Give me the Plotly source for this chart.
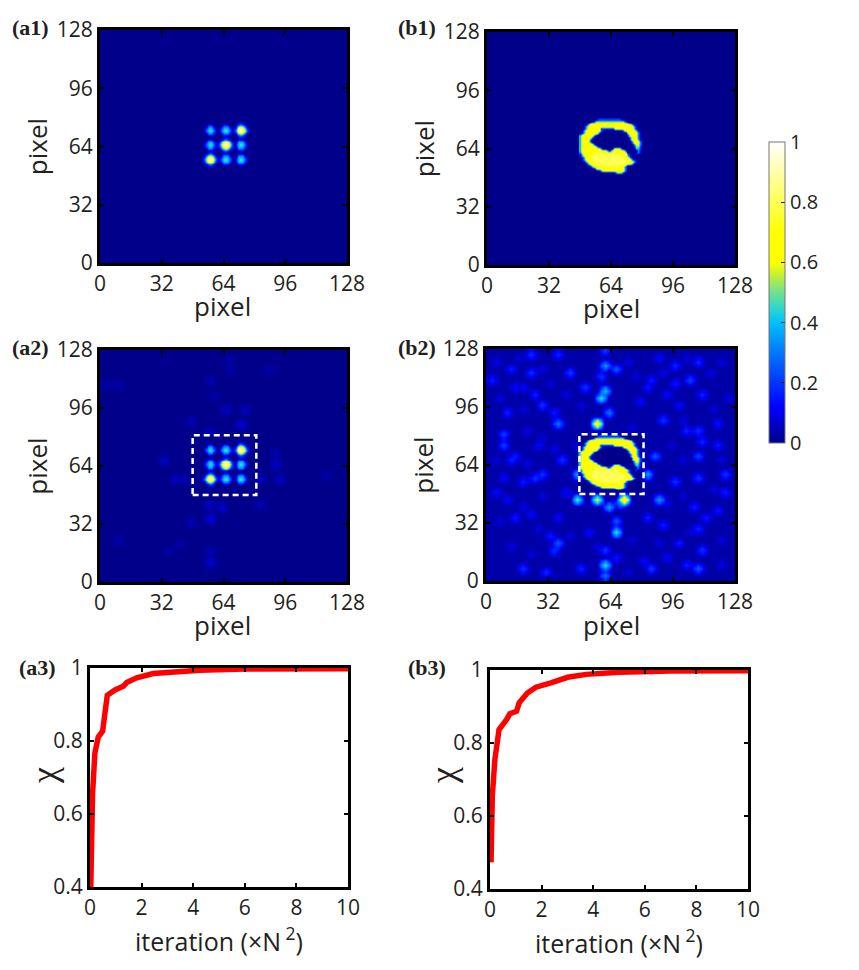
import plotly.graph_objects as go

W, H = 859, 970

# spot pattern of panels a1 / a2 (x and y start at 50, one cell per pixel, top row first)
spot_rows = [
    "0" * 31,
    "0" * 31,
    "0" * 31,
    "0" * 22 + "111" + "0" * 6,
    "0000" + "0011100" + "0" + "0011100" + "001232100" + "000",
    "0000" + "0133310" + "0" + "0133310" + "013565310" + "000",
    "0000" + "1244421" + "0" + "1244421" + "125898521" + "000",
    "0000" + "1345431" + "0" + "1345431" + "1369a9631" + "000",
    "0000" + "1244421" + "0" + "1244421" + "125898521" + "000",
    "0000" + "0133310" + "0" + "0133310" + "013565310" + "000",
    "0000" + "0011100" + "0" + "0011100" + "001232100" + "000",
    "0" * 14 + "111" + "0" * 5 + "111" + "0" * 6,
    "0000" + "0011100" + "001232100" + "0011100" + "0000",
    "0000" + "0133310" + "013565310" + "0133310" + "0000",
    "0000" + "1244421" + "125898521" + "1244421" + "0000",
    "0000" + "1345431" + "1369a9631" + "1345431" + "0000",
    "0000" + "1244421" + "125898521" + "1244421" + "0000",
    "0000" + "0133310" + "013565310" + "0133310" + "0000",
    "0000" + "0011100" + "001232100" + "0011100" + "0000",
    "0" * 6 + "111" + "0" * 5 + "111" + "0" * 14,
    "000" + "001232100" + "0011100" + "0" + "0011100" + "0000",
    "000" + "013565310" + "0133310" + "0" + "0133310" + "0000",
    "000" + "125898521" + "1244421" + "0" + "1244421" + "0000",
    "000" + "1369a9631" + "1345431" + "0" + "1345431" + "0000",
    "000" + "125898521" + "1244421" + "0" + "1244421" + "0000",
    "000" + "013565310" + "0133310" + "0" + "0133310" + "0000",
    "000" + "001232100" + "0011100" + "0" + "0011100" + "0000",
    "0" * 6 + "111" + "0" * 22,
    "0" * 31,
    "0" * 31,
    "0" * 31,
]

# crescent object of panels b1 / b2 (x starts at 48, top row is y=80)
object_rows = [
    "0" * 9 + "1" + "2" * 11 + "1" + "0" * 11,
    "0" * 7 + "2" + "5" * 15 + "2" + "0" * 9,
    "0" * 4 + "14" + "7" * 19 + "41" + "0" * 6,
    "0" * 3 + "14" + "7" * 22 + "41" + "0" * 4,
    "0" * 2 + "14" + "7" * 24 + "41" + "0" * 3,
    "00" + "14" + "7" * 7 + "2" * 7 + "7" * 10 + "41" + "000",
    "0" + "14" + "7" * 8 + "3" + "0" * 10 + "3" + "7" * 6 + "41" + "00",
    "0" + "14" + "7" * 7 + "3" + "0" * 13 + "3" + "7" * 5 + "31" + "0",
    "14" + "7" * 7 + "3" + "0" * 15 + "3" + "7" * 4 + "31" + "0",
    "4" + "7" * 6 + "3" + "0" * 17 + "3" + "7" * 4 + "31" + "0",
    "4" + "7" * 5 + "3" + "0" * 19 + "3" + "777" + "31" + "0",
    "4" + "7" * 4 + "3" + "0" * 20 + "3" + "777" + "41" + "0",
    "4" + "7" * 4 + "3" + "0" * 21 + "3" + "777" + "31",
    "4" + "7" * 5 + "3" + "0" * 20 + "3" + "777" + "31",
    "4" + "7" * 6 + "3" + "0" * 20 + "3" + "66" + "31",
    "4" + "7" * 8 + "3" + "0" * 18 + "2" + "55" + "20",
    "4" + "7" * 10 + "3" + "0" * 5 + "3" + "777" + "3" + "0" * 7 + "44" + "20",
    "4" + "7" * 13 + "414" + "7" * 6 + "3" + "0" * 6 + "31" + "0",
    "3" + "7" * 23 + "3" + "0" * 4 + "131" + "0",
    "14" + "7" * 5 + "8" * 13 + "7" * 5 + "31" + "002000",
    "14" + "7" * 4 + "8" * 15 + "7" * 4 + "31" + "0" * 6,
    "0" + "14" + "7" * 3 + "8" * 17 + "7" * 3 + "31" + "0" * 5,
    "0" + "14" + "7" * 3 + "8" * 18 + "7" * 3 + "31" + "0" * 4,
    "00" + "14" + "7" * 3 + "8" * 18 + "7" * 3 + "41" + "000",
    "000" + "14" + "7" * 3 + "8" * 16 + "7" * 3 + "41" + "0" * 4,
    "0" * 4 + "14" + "7" * 3 + "8" * 12 + "7" * 3 + "31" + "0" * 7,
    "0" * 5 + "14" + "7" * 16 + "31" + "0" * 8,
    "0" * 7 + "14" + "7" * 14 + "31" + "0" * 8,
    "0" * 10 + "14" + "7" * 11 + "31" + "0" * 8,
    "0" * 18 + "2" + "555" + "2" + "0" * 10,
    "0" * 20 + "1" + "0" * 12,
]

# faint speckle of panel a2, on a 64 x 64 grid (2 pixels per cell)
a2_cols = [36, 32, 37, 23, 28, 16, 19, 21, 45, 46, 41, 28, 31, 28, 23, 28, 28, 4, 1, 33, 33, 43, 28, 29, 41, 45, 58, 4, 20, 17]
a2_rows = [43, 47, 47, 44, 41, 33, 28, 28, 32, 28, 28, 21, 20, 17, 16, 5, 8, 54, 54, 61, 58, 58, 55, 51, 21, 35, 29, 11, 10, 8]
a2_vals = [.08, .06, .05, .05, .05, .06, .05, .04, .06, .06, .05, .06, .07, .09, .05, .07, .04, .03, .03, .03, .03, .03, .04, .03, .04, .04, .03, .03, .03, .03]

# speckle of panel b2, same grid
b2_cols = [30, 30, 33, 29, 30, 29, 31, 28, 33, 33, 30, 30, 30, 23, 41, 23, 28, 35, 31, 34, 44, 43, 18, 19,
           4, 4, 1, 5, 11, 11, 18, 6, 21, 12, 14, 9, 7, 6, 12, 14, 4, 9, 25, 18, 16, 17, 9, 15, 24, 42, 54, 51,
           55, 49, 54, 45, 41, 53, 48, 54, 61, 54, 55, 54, 51, 45, 52, 48, 42, 41, 48, 54, 44, 55, 59, 59, 61,
           59, 56, 46, 49, 39, 17, 7, 13, 2, 5, 7, 11, 18, 26, 33, 40, 46, 20, 23, 26,
           2, 8, 14, 16, 3, 9, 20, 24, 36, 38, 45, 51, 57, 60, 62, 58, 50, 37, 10, 14, 17, 2, 10, 60, 50, 47, 58,
           50, 46, 14, 9, 3, 13, 21, 6, 11, 28, 37, 44, 52, 60, 36, 60, 20, 58]
b2_rows = [63, 59, 58, 56, 52, 50, 46, 43, 16, 13, 8, 4, 1, 29, 29, 22, 22, 22, 20, 21, 22, 34, 43, 33,
           40, 37, 55, 46, 57, 62, 62, 58, 57, 51, 48, 53, 34, 33, 28, 29, 28, 27, 53, 10, 12, 8, 3, 2, 3, 3, 3, 4,
           8, 10, 14, 15, 17, 20, 27, 28, 29, 34, 38, 41, 41, 44, 55, 54, 55, 53, 59, 60, 61, 51, 43, 37, 24,
           19, 17, 51, 48, 49, 46, 53, 37, 24, 22, 17, 18, 17, 13, 6, 5, 6, 24, 37, 33,
           60, 61, 58, 54, 50, 47, 51, 48, 60, 56, 57, 61, 57, 60, 50, 47, 44, 42, 41, 39, 36, 33, 32, 33, 33, 37, 25,
           23, 21, 23, 20, 16, 14, 12, 9, 7, 9, 11, 10, 13, 11, 2, 4, 4, 14]
b2_vals = [.20, .35, .25, .20, .40, .45, .30, .75, .25, .45, .20, .45, .30, .35, .35, .50, .60, .80, .35, .30, .35, .25, .30, .20,
           .22, .22, .16, .18, .20, .20, .18, .16, .22, .18, .20, .13, .16, .18, .20, .20, .13, .16, .20, .26, .16, .20, .20, .18, .18, .22, .26, .16,
           .20, .16, .18, .16, .18, .16, .20, .20, .20, .22, .18, .20, .18, .20, .22, .16, .16, .16, .18, .18, .13, .18, .16, .16, .16,
           .16, .16, .13, .13, .13, .16, .13, .13, .13, .13, .16, .13, .13, .13, .16, .13, .13, .13,
           .10, .09, .10, .09, .10, .09, .10, .09, .10, .09, .10, .09, .10, .09, .10, .09, .10, .09, .10, .09, .10, .09, .10, .09, .10, .09, .10,
           .09, .10, .09, .10, .09, .10, .09, .10, .09, .10, .09, .10, .09, .10, .09, .10, .09, .10]
b2_floor = 0.03

# how far a speckle runs into its neighbour cells
spread_dc = [0, 1, -1, 0, 0, 1, 1, -1, -1]
spread_dr = [0, 0, 0, 1, -1, 1, -1, 1, -1]
spread_w = [1, .7, .7, .7, .7, .4, .4, .4, .4]

# dashed box of the lower panels
box_left, box_right, box_bottom, box_top = 48, 81, 48, 81

# convergence curves
a3_iter = [0.03, 0.06, 0.10, 0.19, 0.32, 0.49, 0.58, 0.67, 0.97, 1.29, 1.42, 1.81, 2.45, 3.2, 4.26, 6, 8, 10]
a3_chi = [0.40, 0.539, 0.657, 0.767, 0.811, 0.827, 0.877, 0.925, 0.94, 0.95, 0.96, 0.973, 0.985, 0.99, 0.994, 0.997, 0.998, 0.998]
b3_iter = [0.04, 0.06, 0.09, 0.19, 0.35, 0.64, 0.77, 1.03, 1.13, 1.45, 1.78, 2.36, 3.01, 3.73, 5.03, 7, 10]
b3_chi = [0.473, 0.582, 0.655, 0.755, 0.837, 0.864, 0.88, 0.887, 0.91, 0.937, 0.953, 0.965, 0.98, 0.988, 0.994, 0.997, 0.998]

pixel_ticks = [0, 32, 64, 96, 128]
iter_ticks = [0, 2, 4, 6, 8, 10]
chi_ticks = [0.4, 0.6, 0.8, 1]
chi_labels = ["0.4", "0.6", "0.8", "1"]
bar_ticks = [0, 0.2, 0.4, 0.6, 0.8, 1]
bar_labels = ["0", "0.2", "0.4", "0.6", "0.8", "1"]

# jet like map that runs out to white
cmap = [
    [0, "#00008b"], [0.12, "#0000ff"], [0.3, "#0078ff"], [0.4, "#00c0ff"], [0.45, "#30d8c8"],
    [0.5, "#70e090"], [0.55, "#b8ee40"], [0.6, "#ffff00"], [0.7, "#ffff00"], [1, "#ffffff"],
]

FONT = "Open Sans"
INK = "#231f20"


def digits(rows):
    # rows are typed top first, digit d means d/10 and a means 1
    return [[int(c, 16) / 10 for c in r] for r in reversed(rows)]


def sparse_grid(cols, rows, vals, floor=0.0):
    z = [[floor] * 64 for _ in range(64)]
    for c, r, v in zip(cols, rows, vals):
        for dc, dr, w in zip(spread_dc, spread_dr, spread_w):
            if 0 <= c + dc < 64 and 0 <= r + dr < 64:
                z[r + dr][c + dc] = max(z[r + dr][c + dc], v * w)
    return z


def px(x):
    return x / W


def py(y):
    return 1 - y / H


fig = go.Figure()


def add_window(rows, x0, y0, n, showscale=False):
    trace = go.Heatmap(
        z=digits(rows), x0=x0, dx=1, y0=y0, dy=1, zmin=0, zmax=1, zsmooth="best",
        colorscale=cmap, showscale=showscale, hoverinfo="skip", xaxis="x%d" % n, yaxis="y%d" % n,
    )
    if showscale:
        trace.colorbar = dict(
            x=px(769), xanchor="left", y=py(443), yanchor="bottom", len=301 / H, lenmode="fraction",
            thickness=16, thicknessmode="pixels", tickvals=bar_ticks, ticktext=bar_labels,
            ticks="inside", ticklen=4, tickcolor=INK, outlinecolor="#777777", outlinewidth=1,
            tickfont=dict(family=FONT, size=20, color=INK), xpad=0, ypad=0,
        )
    fig.add_trace(trace)


def add_noise(z, n):
    fig.add_trace(go.Heatmap(
        z=z, x0=1, dx=2, y0=1, dy=2, zmin=0, zmax=1, zsmooth="best", colorscale=cmap,
        showscale=False, hoverinfo="skip", xaxis="x%d" % n, yaxis="y%d" % n,
    ))


# panel order: a1, b1, a2, b2, a3, b3
add_window(spot_rows, 50, 50, 1, showscale=True)
add_window(object_rows, 48, 50, 2)
add_noise(sparse_grid(a2_cols, a2_rows, a2_vals), 3)
add_window(spot_rows, 50, 50, 3)
add_noise(sparse_grid(b2_cols, b2_rows, b2_vals, b2_floor), 4)
add_window(object_rows, 48, 50, 4)
fig.add_trace(go.Scatter(x=a3_iter, y=a3_chi, mode="lines", line=dict(color="#ff0000", width=5.5), xaxis="x5", yaxis="y5"))
fig.add_trace(go.Scatter(x=b3_iter, y=b3_chi, mode="lines", line=dict(color="#ff0000", width=5.5), xaxis="x6", yaxis="y6"))

image_boxes = {1: (100, 347, 30, 263), 2: (487, 735, 32, 265), 3: (100, 347, 350, 582), 4: (486, 735, 349, 581)}
curve_boxes = {5: (90, 348, 668, 887), 6: (490, 748, 670, 889)}
layout = {}


def axis_common(size):
    return dict(
        showgrid=False, zeroline=False, ticks="inside", ticklen=4, tickwidth=2, tickcolor="black",
        showline=True, linecolor="black", linewidth=3, mirror="ticks",
        tickfont=dict(family=FONT, size=size, color=INK),
    )


for n, (l, r, t, b) in image_boxes.items():
    layout["xaxis%d" % n] = dict(
        axis_common(21), domain=[px(l), px(r)], anchor="y%d" % n, range=[0, 128], tickvals=pixel_ticks,
    )
    layout["yaxis%d" % n] = dict(
        axis_common(21), domain=[py(b), py(t)], anchor="x%d" % n, range=[0, 128], tickvals=pixel_ticks,
        title=dict(text="pixel", font=dict(family=FONT, size=26, color=INK), standoff=2),
    )

for n, (l, r, t, b) in curve_boxes.items():
    layout["xaxis%d" % n] = dict(
        axis_common(21), domain=[px(l), px(r)], anchor="y%d" % n, range=[0, 10], tickvals=iter_ticks,
        title=dict(text="iteration (×N<sup> 2</sup>)", font=dict(family=FONT, size=25, color=INK), standoff=8),
    )
    layout["yaxis%d" % n] = dict(
        axis_common(21), domain=[py(b), py(t)], anchor="x%d" % n, range=[0.4, 1], tickvals=chi_ticks, ticktext=chi_labels,
    )

# navy ground under the image panels
shapes = [
    dict(type="rect", xref="x%d" % n, yref="y%d" % n, x0=0, x1=128, y0=0, y1=128, fillcolor="#00008b", line_width=0, layer="below")
    for n in image_boxes
]
shapes += [
    dict(type="rect", xref="x%d" % n, yref="y%d" % n, x0=box_left, x1=box_right, y0=box_bottom, y1=box_top,
         line=dict(color="white", width=2.5, dash="6px,4px"))
    for n in (3, 4)
]

panel_labels = ["(a1)", "(b1)", "(a2)", "(b2)", "(a3)", "(b3)"]
label_spots = [(10, 27), (396, 27), (10, 347), (396, 347), (17, 667), (406, 667)]
annotations = [
    dict(text="<b>%s</b>" % t, x=px(x), y=py(y), xref="paper", yref="paper", xanchor="left", yanchor="middle", showarrow=False,
         font=dict(family="Liberation Serif", size=22, color=INK))
    for t, (x, y) in zip(panel_labels, label_spots)
]

# x titles of the image panels and the chi labels
pixel_spots = [(223, 306), (611, 308), (223, 625), (611, 625)]
annotations += [
    dict(text="pixel", x=px(x), y=py(y), xref="paper", yref="paper", xanchor="center", yanchor="middle", showarrow=False,
         font=dict(family=FONT, size=26, color=INK))
    for x, y in pixel_spots
]
chi_spots = [(44, 776), (443, 776)]
annotations += [
    dict(text="χ", x=px(x), y=py(y), xref="paper", yref="paper", xanchor="center", yanchor="middle", showarrow=False, textangle=-90,
         font=dict(family="Liberation Serif", size=36, color=INK))
    for x, y in chi_spots
]

fig.update_layout(
    width=W, height=H, autosize=False, margin=dict(l=0, r=0, t=0, b=0, autoexpand=False), showlegend=False,
    paper_bgcolor="white", plot_bgcolor="white", shapes=shapes, annotations=annotations, **layout,
)

fig.write_html("out.html", config={"displayModeBar": False}, post_script="document.body.style.margin='0';")
